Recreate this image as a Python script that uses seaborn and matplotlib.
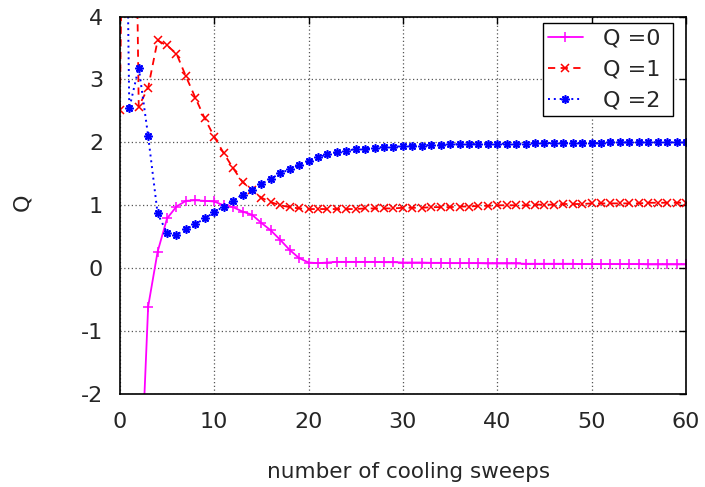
import numpy as np
import matplotlib
matplotlib.use("Agg")
import matplotlib.pyplot as plt
import seaborn as sns

# cooling sweeps 0..60
sweeps = list(range(61))

q0 = [-20.0, -10.0, -4.17, -0.61, 0.26, 0.79, 0.98, 1.07, 1.08, 1.07,
      1.06, 1.00, 0.97, 0.90, 0.85, 0.72, 0.60, 0.45, 0.29, 0.16,
      0.09, 0.08, 0.09, 0.10, 0.10, 0.10, 0.10, 0.10, 0.095, 0.095,
      0.09, 0.09, 0.09, 0.085, 0.085, 0.08, 0.08, 0.08, 0.08, 0.075,
      0.075, 0.075, 0.075, 0.07, 0.07, 0.07, 0.07, 0.07, 0.07, 0.065,
      0.065, 0.065, 0.065, 0.065, 0.065, 0.065, 0.06, 0.06, 0.06, 0.06,
      0.06]

q1 = [2.52, 14.0, 2.57, 2.87, 3.62, 3.54, 3.41, 3.05, 2.71, 2.38,
      2.09, 1.83, 1.59, 1.37, 1.24, 1.12, 1.05, 1.00, 0.97, 0.95,
      0.94, 0.94, 0.94, 0.94, 0.94, 0.94, 0.95, 0.95, 0.95, 0.95,
      0.96, 0.96, 0.96, 0.97, 0.97, 0.97, 0.98, 0.98, 0.99, 0.99,
      1.00, 1.00, 1.00, 1.00, 1.01, 1.01, 1.01, 1.02, 1.02, 1.02,
      1.03, 1.03, 1.03, 1.03, 1.03, 1.03, 1.04, 1.04, 1.04, 1.04,
      1.04]

q2 = [14.0, 2.54, 3.19, 2.10, 0.87, 0.56, 0.53, 0.62, 0.70, 0.79,
      0.89, 0.98, 1.07, 1.17, 1.25, 1.34, 1.42, 1.51, 1.57, 1.64,
      1.70, 1.76, 1.81, 1.84, 1.87, 1.89, 1.90, 1.91, 1.93, 1.93,
      1.94, 1.95, 1.95, 1.96, 1.96, 1.97, 1.97, 1.97, 1.98, 1.98,
      1.98, 1.98, 1.98, 1.98, 1.99, 1.99, 1.99, 1.99, 1.99, 1.99,
      1.99, 1.99, 2.00, 2.00, 2.00, 2.00, 2.00, 2.00, 2.00, 2.00,
      2.00]

x_ticks = [0, 10, 20, 30, 40, 50, 60]
y_ticks = [-2, -1, 0, 1, 2, 3, 4]

sns.set_style("white")
plt.rcParams["font.family"] = ["DejaVu Sans"]
plt.rcParams["axes.unicode_minus"] = False
txt = "#262626"

fig = plt.figure(figsize=(7.05, 4.87), dpi=100)
ax = fig.add_axes([0.170, 0.191, 0.803, 0.775])

sns.lineplot(x=sweeps, y=q0, ax=ax, color="#ff00ff", marker="+", markersize=6.5,
             markeredgewidth=1.1, markeredgecolor="#ff00ff", linewidth=1.3,
             label="Q =0 ")
sns.lineplot(x=sweeps, y=q1, ax=ax, color="#ff0000", marker="x", markersize=5.5,
             markeredgewidth=1.1, markeredgecolor="#ff0000", linewidth=1.3,
             linestyle=(0, (4, 3)), label="Q =1 ")
sns.lineplot(x=sweeps, y=q2, ax=ax, color="#0000ff", marker=(8, 2, 0), markersize=6,
             markeredgewidth=1.2, markeredgecolor="#0000ff", linewidth=1.4,
             linestyle=(0, (1, 2)), label="Q =2 ")

ax.set_xlim(0, 60)
ax.set_ylim(-2, 4)
ax.set_xticks(x_ticks)
ax.set_yticks(y_ticks)
ax.grid(True, color="#555555", linestyle=(0, (1, 2)), linewidth=0.9)
for s in ax.spines.values():
    s.set_color("black")
    s.set_linewidth(1.2)
ax.tick_params(direction="in", length=5, width=1, top=True, right=True,
               colors="black", labelcolor=txt, labelsize=16)
ax.tick_params(axis="x", pad=13)
ax.tick_params(axis="y", pad=12)

ax.set_xlabel("number of cooling sweeps", fontsize=15.5, color=txt)
ax.xaxis.set_label_coords(0.51, -0.18)
ax.set_ylabel("Q", fontsize=16, color=txt)
ax.yaxis.set_label_coords(-0.155, 0.509)

leg = ax.legend(loc="upper right", bbox_to_anchor=(0.977, 0.982), fontsize=16,
                frameon=True, fancybox=False, framealpha=1, edgecolor="black",
                handlelength=1.6, handletextpad=0.9, labelspacing=0.5,
                borderpad=0.23, borderaxespad=0)
leg.get_frame().set_linewidth(1.0)
for t in leg.get_texts():
    t.set_color(txt)

fig.savefig("out.png", dpi=100)
